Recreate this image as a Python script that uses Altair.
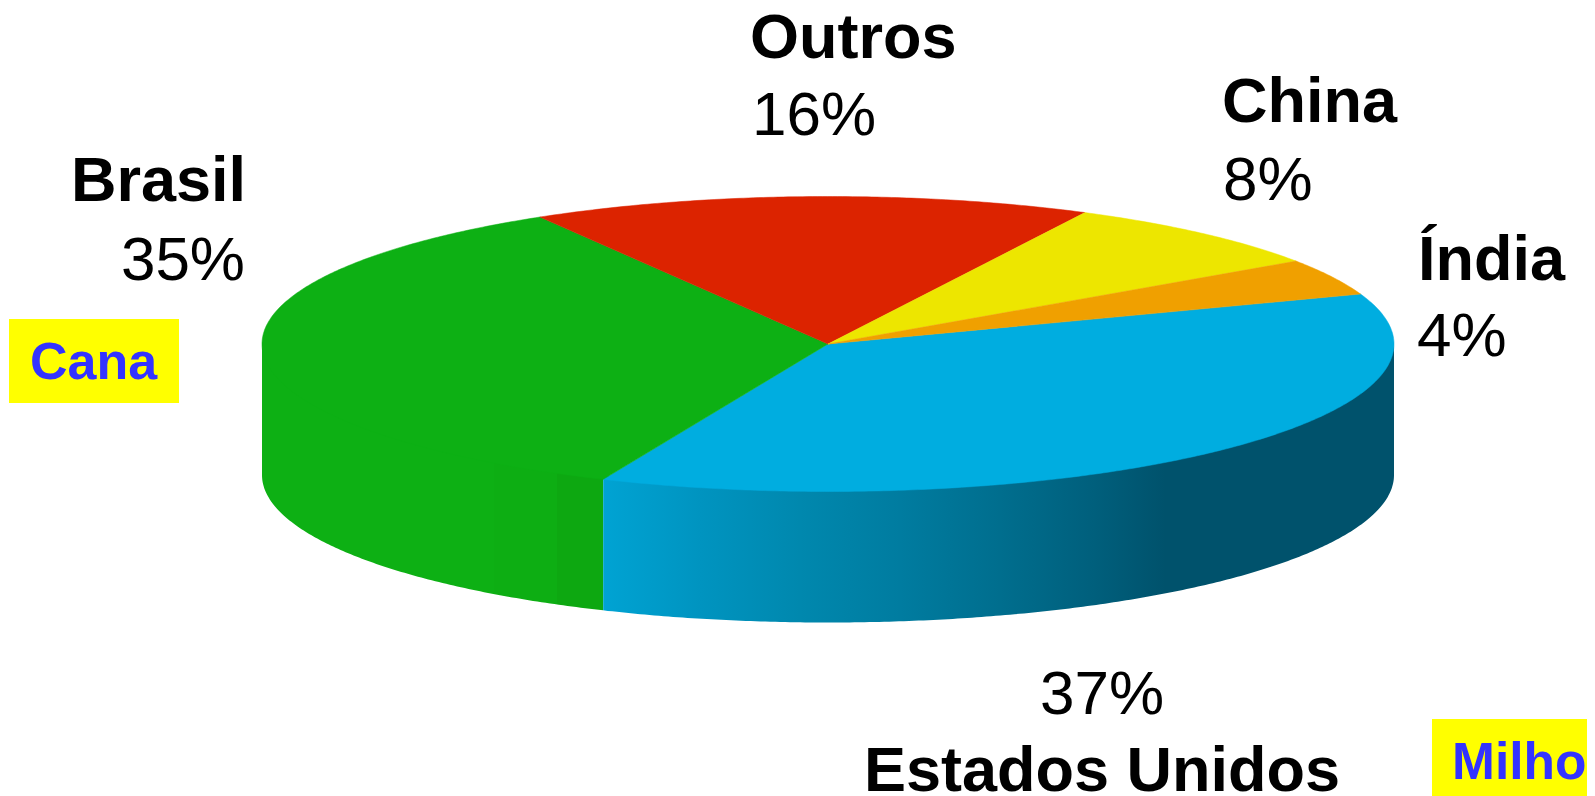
import math
import altair as alt
import pandas as pd

# ---- values ----
countries = ["Estados Unidos", "Brasil", "Outros", "China", "Índia"]
shares = [37, 35, 16, 8, 4]
share_labels = ["37%", "35%", "16%", "8%", "4%"]
top_colors = ["#00ADE0", "#0DB014", "#DC2300", "#EDE600", "#F0A000"]
crops = ["Cana", "Milho"]

# ---- layout (page pixels) ----
W, H, M = 1587, 796, 8   # the page keeps an 8px margin on the right as well
CX, CY, A, B, DEPTH = 828, 344, 566, 147.5, 131
START_DEG = 19.8  # the first slice starts here and runs clockwise

label_layout = {
    "Outros": dict(name=(750, 58, "left"), pct=(752, 135, "left")),
    "China": dict(name=(1222, 122, "left"), pct=(1223, 200, "left")),
    "Índia": dict(name=(1418, 280, "left"), pct=(1417, 356, "left")),
    "Brasil": dict(name=(246, 201, "right"), pct=(245, 280, "right")),
    "Estados Unidos": dict(name=(864, 791, "left"), pct=(1040, 714, "left")),
}
crop_layout = {
    "Cana": dict(box=(9, 319, 179, 403), text=(30, 379)),
    "Milho": dict(box=(1432, 719, 1587, 796), text=(1452, 779)),
}
crop_sizes = {"Cana": 52, "Milho": 51.5}


def ellipse(deg):
    t = math.radians(deg)
    return CX + A * math.cos(t), CY - B * math.sin(t)


def sweep(a0, a1, step=0.5):
    n = max(2, int(abs(a1 - a0) / step))
    return [a0 + (a1 - a0) * i / n for i in range(n + 1)]


x_scale = alt.Scale(domain=[M, W], range=[0, W - M], nice=False, zero=False)
y_scale = alt.Scale(domain=[M, H], range=[0, H - M], nice=False, zero=False)
X = alt.X("x:Q", scale=x_scale, axis=None)
Y = alt.Y("y:Q", scale=y_scale, axis=None)


def gradient(stops, x_from, x_to):
    return alt.LinearGradient(
        gradient="linear", x1=0, y1=0, x2=1, y2=0,
        stops=[alt.GradientStop(offset=(x - x_from) / (x_to - x_from), color=c) for x, c in stops],
    )


def wall(a0, a1, fill):
    rows = []
    for d in sweep(a0, a1):
        x, y = ellipse(d)
        # the wall's upper edge runs a little under the top face, so no seam shows
        rows.append({"x": x, "y": max(CY, y - 4), "y2": y + DEPTH})
    return alt.Chart(pd.DataFrame(rows)).mark_area(color=fill, interpolate="linear", orient="vertical").encode(
        x=X, y=Y, y2="y2:Q"
    )


layers = []

# slice boundaries from the shares
angles = [START_DEG]
for s in shares:
    angles.append(angles[-1] - s * 3.6)

blue_end = angles[1]
blue_x = ellipse(blue_end)[0]
blue_stops = [
    (blue_x, "#00A3D3"), (700, "#0094C0"), (800, "#0088AE"), (900, "#007CA0"),
    (1000, "#006E8E"), (1095, "#005F7C"), (1165, "#00526C"), (1394, "#00526C"),
]
green_stops = [
    (262, "#0DB014"), (494, "#0DB014"), (494, "#0DAE13"), (557, "#0DAE13"),
    (557, "#0DA811"), (blue_x, "#0DA811"),
]
layers.append(wall(-180, blue_end, gradient(green_stops, 262, blue_x)))
layers.append(wall(blue_end, 0, gradient(blue_stops, blue_x, 1394)))

# top faces
for i, name in enumerate(countries):
    pts = [(CX, CY)] + [ellipse(d) for d in sweep(angles[i], angles[i + 1])] + [(CX, CY)]
    df = pd.DataFrame({"x": [p[0] for p in pts], "y": [p[1] for p in pts], "i": range(len(pts))})
    layers.append(
        alt.Chart(df)
        .mark_line(fill=top_colors[i], stroke=top_colors[i], strokeWidth=0.5, interpolate="linear")
        .encode(x=X, y=Y, order="i:Q")
    )


def text_layer(txt, x, y, align, size, weight, color):
    return alt.Chart(pd.DataFrame({"t": [txt]})).mark_text(
        align=align, baseline="alphabetic", font="Liberation Sans",
        fontSize=size, fontWeight=weight, color=color,
    ).encode(x=alt.value(x - M), y=alt.value(y - M), text="t:N")


for name, pct in zip(countries, share_labels):
    lay = label_layout[name]
    layers.append(text_layer(name, lay["name"][0], lay["name"][1], lay["name"][2], 63, "bold", "#000000"))
    layers.append(text_layer(pct, lay["pct"][0], lay["pct"][1], lay["pct"][2], 62, "normal", "#000000"))

for crop in crops:
    lay = crop_layout[crop]
    x0, y0, x1, y1 = lay["box"]
    layers.append(
        alt.Chart(pd.DataFrame({"t": [crop]})).mark_rect(color="#FFFF00").encode(
            x=alt.value(x0 - M), x2=alt.value(x1 - M), y=alt.value(y0 - M), y2=alt.value(y1 - M)
        )
    )
    layers.append(text_layer(crop, lay["text"][0], lay["text"][1], "left", crop_sizes[crop], "bold", "#3333FF"))

chart = (
    alt.layer(*layers)
    .properties(width=W - M, height=H - M, padding=0, autosize=alt.AutoSizeParams(type="none"), background="#FFFFFF")
    .configure_view(stroke=None)
)
chart.save("out.html", embed_options={"renderer": "svg", "actions": False})
